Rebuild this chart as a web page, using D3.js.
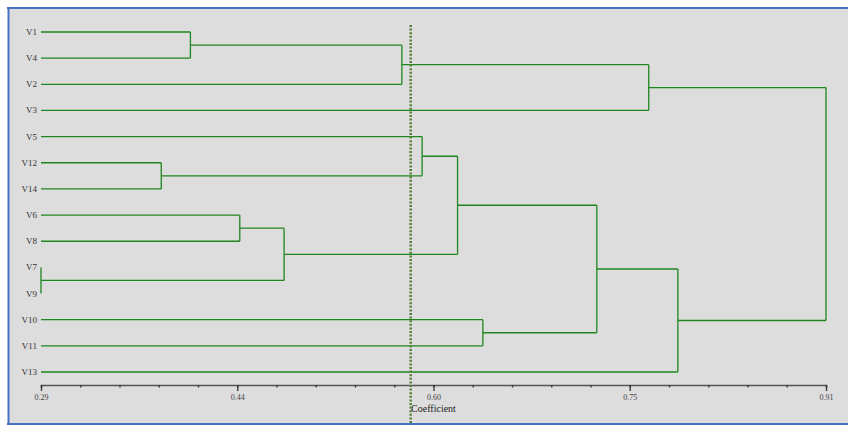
<!DOCTYPE html>
<html lang="en">
<head>
<meta charset="utf-8">
<title>Dendrogram</title>
<script src="https://d3js.org/d3.v7.min.js"></script>
<style>
  body { margin: 0; background: #ffffff; }
  svg { display: block; }
  text { font-family: "Liberation Serif", "DejaVu Serif", serif; }
</style>
</head>
<body>
<div class="chart"></div>
<script>
// leaf order top to bottom
const leaves = ["V1", "V4", "V2", "V3", "V5", "V12", "V14", "V6", "V8", "V7", "V9", "V10", "V11", "V13"];

// merges: cluster Ck joins mergeA[k-1] and mergeB[k-1] at coefficient[k-1]
const mergeA = ["V1", "C1", "C2", "V12", "V5", "V6", "V7", "C6", "C5", "V10", "C9", "C11", "C3"];
const mergeB = ["V4", "V2", "V3", "V14", "C4", "V8", "V9", "C7", "C8", "V11", "C10", "V13", "C12"];
const coefficient = [0.408, 0.575, 0.770, 0.385, 0.591, 0.447, 0.290, 0.482, 0.619, 0.639, 0.729, 0.793, 0.910];

const tickLabels = ["0.29", "0.44", "0.60", "0.75", "0.91"];
const cutValue = 0.582;

const width = 848, height = 425;

const svg = d3.select(".chart").append("svg")
    .attr("width", width)
    .attr("height", height);

// panel background + frame
svg.append("rect")
    .attr("x", 8).attr("y", 8)
    .attr("width", width - 8).attr("height", 416)
    .attr("fill", "#dddddd");
svg.append("line").attr("x1", 7).attr("x2", width).attr("y1", 8).attr("y2", 8)
    .attr("stroke", "#4472c4").attr("stroke-width", 2);
svg.append("line").attr("x1", 8.5).attr("x2", 8.5).attr("y1", 7).attr("y2", 425)
    .attr("stroke", "#4472c4").attr("stroke-width", 2);
svg.append("line").attr("x1", 7).attr("x2", width).attr("y1", 424).attr("y2", 424)
    .attr("stroke", "#4472c4").attr("stroke-width", 2);

const xScale = d3.scaleLinear()
    .domain([0.29, 0.91])
    .range([41, 826]);

const yScale = d3.scalePoint()
    .domain(leaves)
    .range([32, 372]);

// node positions
const pos = {};
leaves.forEach(l => { pos[l] = { x: xScale(0.29), y: yScale(l) }; });
mergeA.forEach((a, i) => {
    const b = mergeB[i];
    pos["C" + (i + 1)] = { x: xScale(coefficient[i]), y: (pos[a].y + pos[b].y) / 2 };
});

const lineColor = "#1f861f";
const g = svg.append("g");

mergeA.forEach((a, i) => {
    const b = mergeB[i];
    const p = pos["C" + (i + 1)];
    [a, b].forEach(c => {
        g.append("line")
            .attr("x1", pos[c].x).attr("x2", p.x)
            .attr("y1", pos[c].y).attr("y2", pos[c].y)
            .attr("stroke", lineColor).attr("stroke-width", 1.3);
    });
    g.append("line")
        .attr("x1", p.x).attr("x2", p.x)
        .attr("y1", pos[a].y).attr("y2", pos[b].y)
        .attr("stroke", lineColor).attr("stroke-width", 1.3);
});

// leaf labels
svg.selectAll(".leaf")
    .data(leaves)
    .enter()
    .append("text")
    .attr("class", "leaf")
    .attr("x", 37)
    .attr("y", d => yScale(d) + 3)
    .attr("text-anchor", "end")
    .attr("font-size", "9px")
    .attr("fill", "#333")
    .text(d => d);

// axis
const majorTicks = tickLabels.map((t, i) => 0.29 + i * (0.91 - 0.29) / (tickLabels.length - 1));
const minorTicks = d3.range(21).map(i => 0.29 + i * (0.91 - 0.29) / 20);

const axisY = 385;
const minorAxis = svg.append("g")
    .attr("transform", `translate(0, ${axisY})`)
    .call(d3.axisBottom(xScale).tickValues(minorTicks).tickSize(2.5).tickFormat(""));
const majorAxis = svg.append("g")
    .attr("transform", `translate(0, ${axisY})`)
    .call(d3.axisBottom(xScale).tickValues(majorTicks).tickSize(6)
        .tickFormat((d, i) => tickLabels[i]));

[minorAxis, majorAxis].forEach(ax => {
    ax.select(".domain").attr("stroke", "#555").attr("stroke-width", 1.5);
    ax.selectAll(".tick line").attr("stroke", "#333").attr("stroke-width", 1.3);
});
majorAxis.select(".domain").remove();
majorAxis.selectAll(".tick text")
    .attr("y", 9)
    .attr("font-family", "Liberation Serif, serif")
    .attr("font-size", "8px")
    .attr("fill", "#444");

svg.append("text")
    .attr("x", xScale(0.60))
    .attr("y", 412)
    .attr("text-anchor", "middle")
    .attr("font-size", "10px")
    .attr("fill", "#222")
    .text("Coefficient");

// cut line
svg.append("line")
    .attr("x1", xScale(cutValue)).attr("x2", xScale(cutValue))
    .attr("y1", 25).attr("y2", 424)
    .attr("stroke", "#567f36")
    .attr("stroke-width", 2.5)
    .attr("stroke-dasharray", "2,1.6");
</script>
</body>
</html>
